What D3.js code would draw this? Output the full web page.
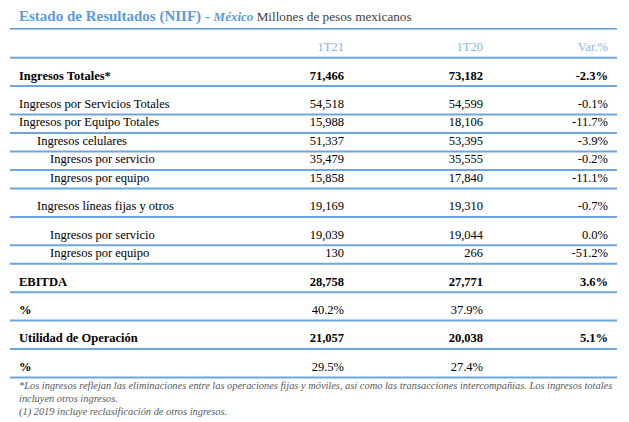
<!DOCTYPE html>
<html>
<head>
<meta charset="utf-8">
<script src="https://cdn.jsdelivr.net/npm/d3@7"></script>
<style>
  html, body { margin: 0; padding: 0; background: #ffffff; }
  svg { display: block; }
  svg text { font-family: "Liberation Serif", Tinos, "Times New Roman", Times, "DejaVu Serif", serif; }
</style>
</head>
<body>
<svg id="chart" width="629" height="422"></svg>
<script>
// ---- data ----
const titleMain = "Estado de Resultados (NIIF) - ";
const titleCountry = "México";
const titleUnits = " Millones de pesos mexicanos";
const columns = ["1T21", "1T20", "Var.%"];
const labels = [
  "Ingresos Totales*",
  "Ingresos por Servicios Totales",
  "Ingresos por Equipo Totales",
  "Ingresos celulares",
  "Ingresos por servicio",
  "Ingresos por equipo",
  "Ingresos líneas fijas y otros",
  "Ingresos por servicio",
  "Ingresos por equipo",
  "EBITDA",
  "%",
  "Utilidad de Operación",
  "%"
];
const values1T21 = [71466, 54518, 15988, 51337, 35479, 15858, 19169, 19039, 130, 28758, 40.2, 21057, 29.5];
const values1T20 = [73182, 54599, 18106, 53395, 35555, 17840, 19310, 19044, 266, 27771, 37.9, 20038, 27.4];
const variation = [-2.3, -0.1, -11.7, -3.9, -0.2, -11.1, -0.7, 0.0, -51.2, 3.6, null, 5.1, null];
const isMarginRow = [false, false, false, false, false, false, false, false, false, false, true, false, true];
const footnotes = [
  "*Los ingresos reflejan las eliminaciones entre las operaciones fijas y móviles, así como las transacciones intercompañías. Los ingresos totales",
  "incluyen otros ingresos.",
  "(1) 2019 incluye reclasificación de otros ingresos."
];

// ---- styling (layout only) ----
const indentLevel = [0, 0, 0, 1, 2, 2, 1, 2, 2, 0, 0, 0, 0];
const boldRow     = [true, false, false, false, false, false, false, false, false, true, true, true, true];
const tallRow     = [true, true, false, false, false, false, true, true, false, true, true, true, true];

const svg = d3.select("#chart");
const lineColor = "#6ea6dc";
const left = 10, right = 617;

// column scale: right edge for each column
const colX = d3.scaleOrdinal().domain(columns).range([344, 483, 608]);
// indentation scale
const indentX = d3.scaleLinear().domain([0, 1, 2]).range([19, 37, 50]);

const locale = d3.formatLocale({ decimal: ".", thousands: ",", grouping: [3], currency: ["$", ""], minus: "-" });
const fmtInt = locale.format(",");
const fmtPct = d => locale.format(".1f")(d) + "%";

// title
const title = svg.append("text")
  .attr("x", 19).attr("y", 21);
title.append("tspan").attr("font-size", 15).attr("font-weight", "bold").attr("fill", "#5b9bd5").text(titleMain);
title.append("tspan").attr("font-size", 13).attr("font-style", "italic").attr("font-weight", "bold").attr("fill", "#5b9bd5").text(titleCountry);
title.append("tspan").attr("font-size", 13.2).attr("fill", "#404040").text(titleUnits);

svg.append("line").attr("x1", left).attr("x2", right).attr("y1", 28.8).attr("y2", 28.8)
  .attr("stroke", "#5b9bd5").attr("stroke-width", 1.6);

// header
const headerBottom = 57.7;
svg.append("g").selectAll("text").data(columns).join("text")
  .attr("x", d => colX(d)).attr("y", headerBottom - 6.8)
  .attr("text-anchor", "end")
  .attr("font-size", 12.5)
  .attr("fill", "#8db4e2")
  .text(d => d);
svg.append("line").attr("x1", left).attr("x2", right).attr("y1", headerBottom).attr("y2", headerBottom)
  .attr("stroke", lineColor).attr("stroke-width", 2);

// row positions
const tallH = 28.4, shortH = 18.5;
const rowBottoms = [];
let yAcc = headerBottom;
tallRow.forEach(t => { yAcc += t ? tallH : shortH; rowBottoms.push(yAcc); });

const rows = labels.map((label, i) => ({
  label, i,
  cells: [
    isMarginRow[i] ? fmtPct(values1T21[i]) : fmtInt(values1T21[i]),
    isMarginRow[i] ? fmtPct(values1T20[i]) : fmtInt(values1T20[i]),
    variation[i] === null ? "" : fmtPct(variation[i])
  ]
}));

const g = svg.append("g").selectAll("g").data(rows).join("g");

g.append("text")
  .attr("x", d => indentX(indentLevel[d.i]))
  .attr("y", d => rowBottoms[d.i] - 6.6)
  .attr("font-size", 12.5)
  .attr("font-weight", d => boldRow[d.i] ? "bold" : "normal")
  .attr("fill", "#000")
  .text(d => d.label);

g.selectAll("text.cell").data(d => d.cells.map((c, k) => ({ c, k, i: d.i }))).join("text")
  .attr("class", "cell")
  .attr("x", d => colX(columns[d.k]))
  .attr("y", d => rowBottoms[d.i] - 6.6)
  .attr("text-anchor", "end")
  .attr("font-size", 12.5)
  .attr("font-weight", d => (boldRow[d.i] && !isMarginRow[d.i]) ? "bold" : "normal")
  .attr("fill", "#000")
  .text(d => d.c);

g.append("line")
  .attr("x1", left).attr("x2", right)
  .attr("y1", d => rowBottoms[d.i]).attr("y2", d => rowBottoms[d.i])
  .attr("stroke", lineColor).attr("stroke-width", 2);

// footnotes
svg.append("g").selectAll("text").data(footnotes).join("text")
  .attr("x", 19).attr("y", (d, i) => 388.5 + i * 13)
  .attr("font-size", 10.4)
  .attr("font-style", "italic")
  .attr("fill", "#595959")
  .text(d => d);
</script>
</body>
</html>
